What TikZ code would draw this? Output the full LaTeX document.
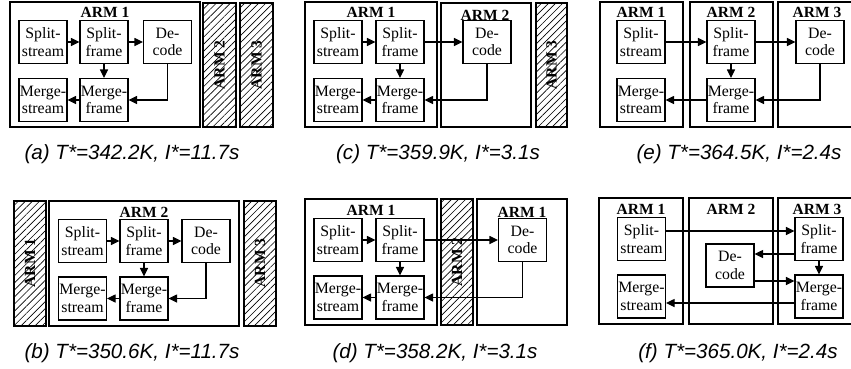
\documentclass[tikz,border=0pt]{standalone}
\usepackage{fontspec}
\setmainfont{Liberation Serif}
\newfontfamily\capfont{Liberation Sans}
\usetikzlibrary{arrows.meta, patterns.meta, calc}

\begin{document}
\begin{tikzpicture}[x=1pt, y=-1pt,
    blk/.style={draw, line width=1.1pt, minimum width=48pt, minimum height=43pt, inner sep=0pt, align=center, font=\fontsize{15.8}{17.3}\selectfont},
    arm/.style={draw, line width=1.4pt},
    idle/.style={draw, line width=1.4pt, pattern={Lines[angle=45, distance=5pt, line width=0.65pt]}, pattern color=black},
    lbl/.style={font=\bfseries\fontsize{15.5}{17}\selectfont, inner sep=0pt},
    arr/.style={-{Triangle[length=8.5pt, width=8pt]}, line width=1.1pt},
    subcap/.style={font=\capfont\itshape\fontsize{20.6}{24}\selectfont, inner sep=0pt},
]
\useasboundingbox (0,0) rectangle (851,368);

% ---------- (a) all on ARM 1
\draw[arm] (10,2) rectangle (200,127);
\draw[idle] (203,3) rectangle (236,127);
\draw[idle] (240,3) rectangle (273,127);
\node[lbl] (a-arm1) at (105,12) {ARM 1};
\node[lbl, rotate=90] (a-arm2) at (219.5,65) {ARM 2};
\node[lbl, rotate=90] (a-arm3) at (256.5,65) {ARM 3};
\node[blk] (a-ss) at (43,42) {Split-\\stream};
\node[blk] (a-sf) at (104,42) {Split-\\frame};
\node[blk] (a-dec) at (167.5,42) {De-\\code};
\node[blk] (a-ms) at (43,100) {Merge-\\stream};
\node[blk] (a-mf) at (104,100) {Merge-\\frame};
\draw[arr] (a-ss) -- (a-sf);
\draw[arr] (a-sf) -- (a-dec);
\draw[arr] (a-sf) -- (a-mf);
\draw[arr] (a-dec.south) |- (a-mf);
\draw[arr] (a-mf) -- (a-ms);
\node[subcap] (a-cap) at (132,154) {(a) T*=342.2K, I*=11.7s};

% ---------- (c) decode on ARM 2
\draw[arm] (305,2) rectangle (437,127);
\draw[arm] (441,3) rectangle (531,127);
\draw[idle] (536,3) rectangle (567,127);
\node[lbl] (c-arm1) at (371,12) {ARM 1};
\node[lbl] (c-arm2) at (485,15) {ARM 2};
\node[lbl, rotate=90] (c-arm3) at (551.5,65) {ARM 3};
\node[blk] (c-ss) at (338,42) {Split-\\stream};
\node[blk] (c-sf) at (400,42) {Split-\\frame};
\node[blk] (c-dec) at (487,42) {De-\\code};
\node[blk] (c-ms) at (338,100) {Merge-\\stream};
\node[blk] (c-mf) at (400,100) {Merge-\\frame};
\draw[arr] (c-ss) -- (c-sf);
\draw[arr] (c-sf) -- (c-dec);
\draw[arr] (c-sf) -- (c-mf);
\draw[arr] (c-dec.south) |- (c-mf);
\draw[arr] (c-mf) -- (c-ms);
\node[subcap] (c-cap) at (438,154) {(c) T*=359.9K, I*=3.1s};

% ---------- (e) three ARMs
\draw[arm] (600,2) rectangle (683,127);
\draw[arm] (690,2) rectangle (773,127);
\draw[arm] (851,2) -- (778,2) -- (778,127) -- (851,127);
\node[lbl] (e-arm1) at (641,12) {ARM 1};
\node[lbl] (e-arm2) at (731,12) {ARM 2};
\node[lbl] (e-arm3) at (817,12) {ARM 3};
\node[blk] (e-ss) at (641,42) {Split-\\stream};
\node[blk] (e-sf) at (731,42) {Split-\\frame};
\node[blk] (e-dec) at (820,42) {De-\\code};
\node[blk] (e-ms) at (641,100) {Merge-\\stream};
\node[blk] (e-mf) at (731,100) {Merge-\\frame};
\draw[arr] (e-ss) -- (e-sf);
\draw[arr] (e-sf) -- (e-dec);
\draw[arr] (e-sf) -- (e-mf);
\draw[arr] (e-dec.south) |- (e-mf);
\draw[arr] (e-mf) -- (e-ms);
\node[subcap] (e-cap) at (739,154) {(e) T*=364.5K, I*=2.4s};

% ---------- (b) all on ARM 2
\draw[idle] (14,201) rectangle (46,326);
\draw[arm] (49,201) rectangle (239,326);
\draw[idle] (244,201) rectangle (276,326);
\node[lbl, rotate=90] (b-arm1) at (30,263) {ARM 1};
\node[lbl] (b-arm2) at (144,212) {ARM 2};
\node[lbl, rotate=90] (b-arm3) at (260,263) {ARM 3};
\node[blk] (b-ss) at (82.5,241) {Split-\\stream};
\node[blk] (b-sf) at (144,241) {Split-\\frame};
\node[blk] (b-dec) at (206,241) {De-\\code};
\node[blk] (b-ms) at (82.5,298.5) {Merge-\\stream};
\node[blk] (b-mf) at (144,298.5) {Merge-\\frame};
\draw[arr] (b-ss) -- (b-sf);
\draw[arr] (b-sf) -- (b-dec);
\draw[arr] (b-sf) -- (b-mf);
\draw[arr] (b-dec.south) |- (b-mf);
\draw[arr] (b-mf) -- (b-ms);
\node[subcap] (b-cap) at (132,353) {(b) T*=350.6K, I*=11.7s};

% ---------- (d) decode skips ARM 2
\draw[arm] (305,199) rectangle (437,325);
\draw[idle] (441,199) rectangle (473,325);
\draw[arm] (477,199) rectangle (567,325);
\node[lbl] (d-arm1) at (371,210) {ARM 1};
\node[lbl, rotate=90] (d-arm2) at (457,262) {ARM 2};
\node[lbl] (d-arm1r) at (522,212) {ARM 1};
\node[blk] (d-ss) at (338,240) {Split-\\stream};
\node[blk] (d-sf) at (400,240) {Split-\\frame};
\node[blk] (d-dec) at (522.5,240) {De-\\code};
\node[blk] (d-ms) at (338,297.5) {Merge-\\stream};
\node[blk] (d-mf) at (400,297.5) {Merge-\\frame};
\draw[arr] (d-ss) -- (d-sf);
\draw[arr] (d-sf) -- (d-dec);
\draw[arr] (d-sf) -- (d-mf);
\draw[arr] (d-dec.south) |- (d-mf);
\draw[arr] (d-mf) -- (d-ms);
\node[subcap] (d-cap) at (435,353) {(d) T*=358.2K, I*=3.1s};

% ---------- (f) split-frame and merge-frame on ARM 3
\draw[arm] (599,198) rectangle (683,324);
\draw[arm] (689,198) rectangle (773,324);
\draw[arm] (851,198) -- (778,198) -- (778,324) -- (851,324);
\node[lbl] (f-arm1) at (641,209) {ARM 1};
\node[lbl] (f-arm2) at (731,209) {ARM 2};
\node[lbl] (f-arm3) at (817,209) {ARM 3};
\node[blk] (f-ss) at (641.5,239) {Split-\\stream};
\node[blk] (f-dec) at (730,265.5) {De-\\code};
\node[blk] (f-sf) at (819,239) {Split-\\frame};
\node[blk] (f-ms) at (641.5,296.5) {Merge-\\stream};
\node[blk] (f-mf) at (819,296.5) {Merge-\\frame};
\draw[arr] ([yshift=8pt]f-ss.east) -- ([yshift=8pt]f-ss.east -| f-sf.west);
\draw[arr] ([yshift=-15pt]f-sf.west) -- ([yshift=-15pt]f-sf.west -| f-dec.east);
\draw[arr] ([yshift=15.5pt]f-mf.west -| f-dec.east) -- ([yshift=15.5pt]f-mf.west);
\draw[arr] (f-sf) -- (f-mf);
\draw[arr] ([yshift=-6.5pt]f-mf.west) -- ([yshift=-6.5pt]f-mf.west -| f-ms.east);
\node[subcap] (f-cap) at (738,353) {(f) T*=365.0K, I*=2.4s};
\end{tikzpicture}
\end{document}
